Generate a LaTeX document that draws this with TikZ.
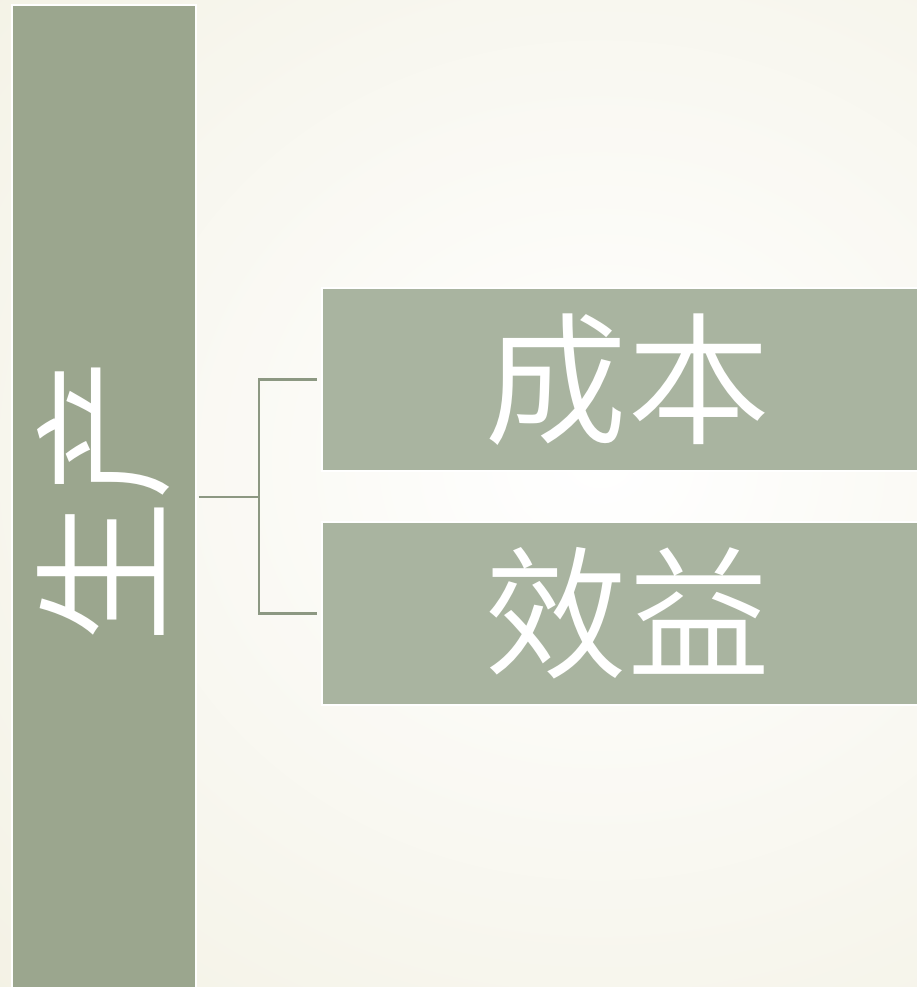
\documentclass[tikz,border=0pt]{standalone}
\usepackage{fontspec}
\newfontfamily\cjk{Noto Sans CJK SC DemiLight}
\definecolor{bgouter}{RGB}{242,240,226}
\definecolor{leftbox}{RGB}{155,166,142}
\definecolor{rightbox}{RGB}{169,180,160}
\definecolor{conncol}{RGB}{140,152,130}
\tikzset{
  boxstyle/.style={draw=white, line width=1.2pt, inner sep=0pt, text=white, font=\cjk\fontsize{143}{143}\selectfont},
  connstyle/.style={draw=conncol, line width=2.4pt}
}
\begin{document}
\begin{tikzpicture}[x=1pt,y=1pt]
\useasboundingbox (0,0) rectangle (917,-987);
\shade[inner color=white, outer color=bgouter] (-350,380) rectangle (1550,-1300);
\begin{scope}
\clip (0,0) rectangle (917,-987);
\node[boxstyle, fill=leftbox, rotate=90, minimum width=990, minimum height=184] (L) at (104,-500) {\raisebox{3pt}{生产}};
\node[boxstyle, fill=rightbox, minimum width=610, minimum height=183] (A) at (627,-379.5) {\raisebox{2pt}{成本}};
\node[boxstyle, fill=rightbox, minimum width=610, minimum height=183] (B) at (627,-613.5) {\raisebox{2pt}{效益}};
\end{scope}
\coordinate (J) at (259,-497);
\draw[connstyle] ([xshift=2pt]L.south |- J) -- (J);
\draw[connstyle, shorten >=4pt] (J) |- (A.west);
\draw[connstyle, shorten >=4pt] (J) |- (B.west);
\end{tikzpicture}
\end{document}
